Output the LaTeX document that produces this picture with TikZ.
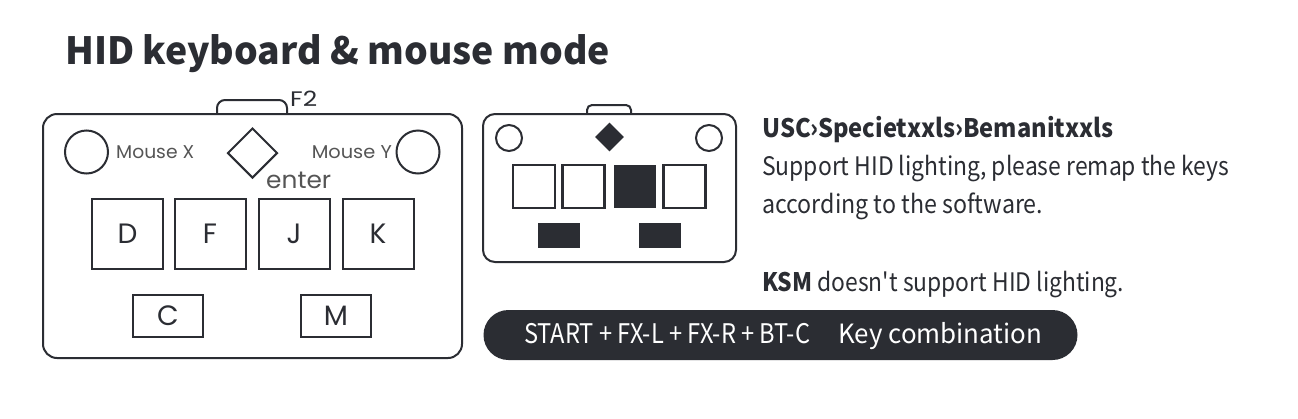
\documentclass[tikz,border=0pt]{standalone}
\usepackage{fontspec}
\usepackage{graphicx}
\usetikzlibrary{shapes.geometric}
\setmainfont{Noto Sans CJK SC}[Ligatures=TeXOff]
\newfontfamily\pop{Poppins}
\definecolor{dk}{HTML}{2B2D33}
\definecolor{lbl}{HTML}{555555}
\newcommand{\fitto}[2]{\resizebox{#1}{\height}{#2}}
\tikzset{
  outl/.style={draw=dk, line width=2pt},
  keybox/.style={draw=dk, line width=2pt, rectangle, inner sep=0pt, font=\pop\fontsize{28}{30}\selectfont, text=dk},
  knob/.style={draw=dk, line width=2pt, circle, inner sep=0pt},
  smallkey/.style={draw=dk, line width=2.2pt, rectangle, inner sep=0pt, minimum width=42pt, minimum height=43pt},
  filledkey/.style={fill=dk, rectangle, inner sep=0pt},
  txt/.style={anchor=base west, inner sep=0pt, text=dk, font=\fontsize{25.5}{30}\selectfont},
  lab/.style={inner sep=0pt, text=lbl, font=\pop\fontsize{18.5}{22}\selectfont},
}
\begin{document}
\begin{tikzpicture}[x=1pt,y=-1pt]
\useasboundingbox (0,0) rectangle (1298,418);
\fill[white] (0,0) rectangle (1298,418);
% title
\node[anchor=base west, inner sep=0pt, text=dk, font=\bfseries\fontsize{37.5}{45}\selectfont] (title) at (65,64) {\fitto{545pt}{HID keyboard \& mouse mode}};
% ---- left device
\draw[outl, rounded corners=8] (217,114) -- (217,100) -- (287,100) -- (287,114);
\draw[outl, rounded corners=14, fill=white] (43,114) rectangle (462,358);
\node[anchor=base west, inner sep=0pt, text=dk, font=\pop\fontsize{21}{24}\selectfont] (f2) at (290,106) {\fitto{27pt}{F2}};
\node[knob, minimum size=43pt] (mx) at (86.5,152) {};
\node[knob, minimum size=43pt] (my) at (418,152) {};
\node[lab, anchor=west] (mxl) at (116,152) {\fitto{78pt}{Mouse X}};
\node[lab, anchor=east] (myl) at (392,152) {\fitto{80pt}{Mouse Y}};
\node[draw=dk, line width=2pt, diamond, aspect=1, inner sep=0pt, minimum width=50pt, minimum height=50pt] (ent) at (252.5,153) {};
\node[anchor=base west, inner sep=0pt, text=lbl, font=\pop\fontsize{24}{28}\selectfont] (entl) at (266,188) {\fitto{65pt}{enter}};
\node[keybox, minimum width=71pt, minimum height=70pt] (kD) at (127.5,234) {D};
\node[keybox, minimum width=71pt, minimum height=70pt] (kF) at (210,234) {F};
\node[keybox, minimum width=71pt, minimum height=70pt] (kJ) at (294,234) {J};
\node[keybox, minimum width=71pt, minimum height=70pt] (kK) at (378,234) {K};
\node[keybox, minimum width=70pt, minimum height=42pt] (kC) at (168,316) {C};
\node[keybox, minimum width=70pt, minimum height=42pt] (kM) at (336,316) {M};
% ---- right device
\draw[outl, rounded corners=5] (587,114) -- (587,105) -- (631,105) -- (631,114);
\draw[outl, rounded corners=12, fill=white] (483,114) rectangle (736,262);
\node[knob, minimum size=26pt] (rl) at (509,138) {};
\node[knob, minimum size=26pt] (rr) at (709,138) {};
\node[fill=dk, diamond, aspect=1, inner sep=0pt, minimum width=29pt, minimum height=29pt] (rd) at (609.5,137) {};
\node[smallkey] (s1) at (534,186.5) {};
\node[smallkey] (s2) at (583.5,186.5) {};
\node[filledkey, minimum width=42pt, minimum height=43pt] (s3) at (634.5,186.5) {};
\node[smallkey] (s4) at (684.5,186.5) {};
\node[filledkey, minimum width=42pt, minimum height=25pt] (b1) at (559,235.5) {};
\node[filledkey, minimum width=42pt, minimum height=25pt] (b2) at (660,235.5) {};
% ---- text
\node[txt, font=\bfseries\fontsize{25.5}{30}\selectfont] (t1) at (762,137) {\fitto{351pt}{USC›Specietxxls›Bemanitxxls}};
\node[txt] (t2) at (762,175) {\fitto{467pt}{Support HID lighting, please remap the keys}};
\node[txt] (t3) at (762,213) {\fitto{281pt}{according to the software.}};
\node[txt] (t4) at (762,291) {\fitto{362pt}{\textbf{KSM} doesn't support HID lighting.}};
% ---- pill
\node[fill=dk, rounded corners=25pt, minimum width=594pt, minimum height=50pt, inner sep=0pt] (pill) at (780.5,335) {};
\node[anchor=base west, inner sep=0pt, text=white, font=\fontsize{27}{30}\selectfont] (combo) at (524,343) {\fitto{286pt}{START + FX-L + FX-R + BT-C}};
\node[anchor=base west, inner sep=0pt, text=white, font=\fontsize{26.5}{30}\selectfont] (kc) at (838,343) {\fitto{204pt}{Key combination}};
\end{tikzpicture}
\end{document}
